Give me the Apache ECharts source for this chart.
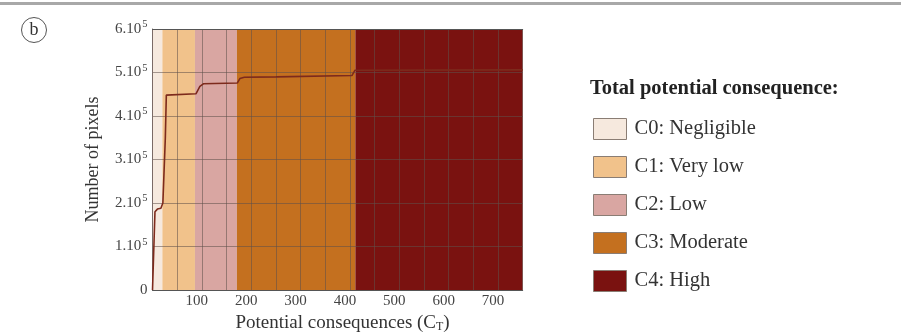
<!DOCTYPE html>
<html><head><meta charset="utf-8">
<script src="https://cdn.jsdelivr.net/npm/echarts@6/dist/echarts.min.js"></script>
<style>html,body{margin:0;padding:0;background:#fff}#c{width:901px;height:335px}</style>
</head><body><div id="c"></div>
<script>
// ---- data ----
const zoneNames = ['C0: Negligible', 'C1: Very low', 'C2: Low', 'C3: Moderate', 'C4: High'];
const zoneStart = [0, 20, 86, 171, 411];
const zoneEnd = [20, 86, 171, 411, 750];
const curveX = [0, 2.5, 5, 10, 17, 21, 26, 28, 31, 88, 96, 103, 172, 177, 186, 250, 404, 410, 750];
const curveY = [0, 90000, 180000, 186000, 188000, 200000, 350000, 448000, 450000, 451000, 468000, 474000, 476000, 486000, 489000, 490000, 493000, 505000, 506000];
const xTickLabels = [100, 200, 300, 400, 500, 600, 700];
const yTickValues = [0, 100000, 200000, 300000, 400000, 500000, 600000];
const yTickLabels = ['0', '1.10^5', '2.10^5', '3.10^5', '4.10^5', '5.10^5', '6.10^5'];
const legendTitle = 'Total potential consequence:';

// ---- styles ----
const zoneColors = ['#f6e9de', '#f1c28b', '#d9a6a2', '#c4701f', '#7a1210'];
const serif = '"Liberation Serif", "DejaVu Serif", serif';

const chart = echarts.init(document.getElementById('c'));

const zoneSeries = zoneNames.map((name, i) => ({
  name: name,
  type: 'custom',
  z: 1,
  xAxisIndex: 0, yAxisIndex: 0,
  itemStyle: { color: zoneColors[i] },
  data: [[zoneStart[i], zoneEnd[i]]],
  renderItem: function (params, api) {
    const p0 = api.coord([api.value(0), 600000]);
    const p1 = api.coord([api.value(1), 0]);
    return {
      type: 'rect',
      shape: { x: p0[0], y: p0[1], width: p1[0] - p0[0], height: p1[1] - p0[1] },
      style: { fill: zoneColors[i] }
    };
  },
  silent: true
}));

function yLabel(v) {
  const idx = yTickValues.indexOf(v);
  if (idx < 0) return '';
  const s = yTickLabels[idx];
  if (s.indexOf('^') < 0) return '{b|' + s + '}';
  const parts = s.split('^');
  return '{b|' + parts[0] + '}{s|' + parts[1] + '}';
}

const option = {
  animation: false,
  backgroundColor: '#fff',
  grid: { left: 152.5, right: 378.3, top: 29, bottom: 45, containLabel: false, outerBoundsMode: 'none' },
  title: {
    text: legendTitle, left: 590, top: 78, padding: 0,
    textStyle: { fontFamily: serif, fontWeight: 'bold', fontSize: 20.5, color: '#222' }
  },
  legend: {
    orient: 'vertical', left: 593, top: 118, padding: 0,
    icon: 'rect', itemWidth: 33, itemHeight: 21, itemGap: 16,
    data: zoneNames,
    itemStyle: { borderColor: '#8a7d74', borderWidth: 1 },
    textStyle: { fontFamily: serif, fontSize: 20.5, color: '#333', padding: [0, 0, 0, 3] },
    selectedMode: false
  },
  xAxis: [{
    type: 'value', min: 0, max: 750, interval: 50, z: 5,
    axisLine: { show: true, lineStyle: { color: '#555', width: 1 } },
    axisTick: { show: false },
    splitLine: { show: true, lineStyle: { color: 'rgba(95,80,75,0.55)', width: 1 } },
    axisLabel: {
      fontFamily: serif, fontSize: 15, color: '#444', margin: 4, padding: [0, 10, 0, 0],
      formatter: v => (xTickLabels.indexOf(v) >= 0 ? String(v) : '')
    },
    name: 'Potential consequences (C{sub|T})',
    nameLocation: 'middle', nameGap: 15,
    nameTextStyle: {
      fontFamily: serif, fontSize: 19, color: '#333', padding: [0, 0, 0, 10],
      rich: { sub: { fontFamily: serif, fontSize: 12, color: '#333', verticalAlign: 'bottom', padding: [7, 0, 0, 0] } }
    }
  }, {
    type: 'value', min: 0, max: 750, position: 'top', z: 6,
    axisLine: { show: true, lineStyle: { color: '#555', width: 1 } },
    axisTick: { show: false }, axisLabel: { show: false }, splitLine: { show: false }
  }],
  yAxis: {
    type: 'value', min: 0, max: 600000, interval: 100000, z: 5,
    axisLine: { show: true, lineStyle: { color: '#7a6a66', width: 1 } },
    axisTick: { show: false },
    splitLine: { show: true, lineStyle: { color: 'rgba(95,80,75,0.55)', width: 1 } },
    axisLabel: {
      margin: 5, formatter: yLabel,
      rich: {
        b: { fontFamily: serif, fontSize: 15, color: '#444' },
        s: { fontFamily: serif, fontSize: 10.5, color: '#444', verticalAlign: 'top', padding: [0, 0, 9, 1] }
      }
    },
    name: 'Number of pixels', nameLocation: 'middle', nameGap: 50,
    nameTextStyle: { fontFamily: serif, fontSize: 18, color: '#333' }
  },
  graphic: [
    { type: 'rect', left: 0, top: 2, shape: { width: 901, height: 3 }, style: { fill: '#a8a8a8' } },
    { type: 'circle', shape: { cx: 34, cy: 30, r: 12.5 }, style: { fill: 'none', stroke: '#555', lineWidth: 1 } },
    { type: 'text', x: 34, y: 30, style: { text: 'b', fontFamily: serif, fontSize: 18, fill: '#333', align: 'center', verticalAlign: 'middle' } }
  ],
  series: zoneSeries.concat([{
    type: 'line', z: 10, symbol: 'none',
    lineStyle: { color: '#7d2a1c', width: 1.6 },
    data: curveX.map((x, i) => [x, curveY[i]])
  }])
};
chart.setOption(option);
</script>
</body></html>
